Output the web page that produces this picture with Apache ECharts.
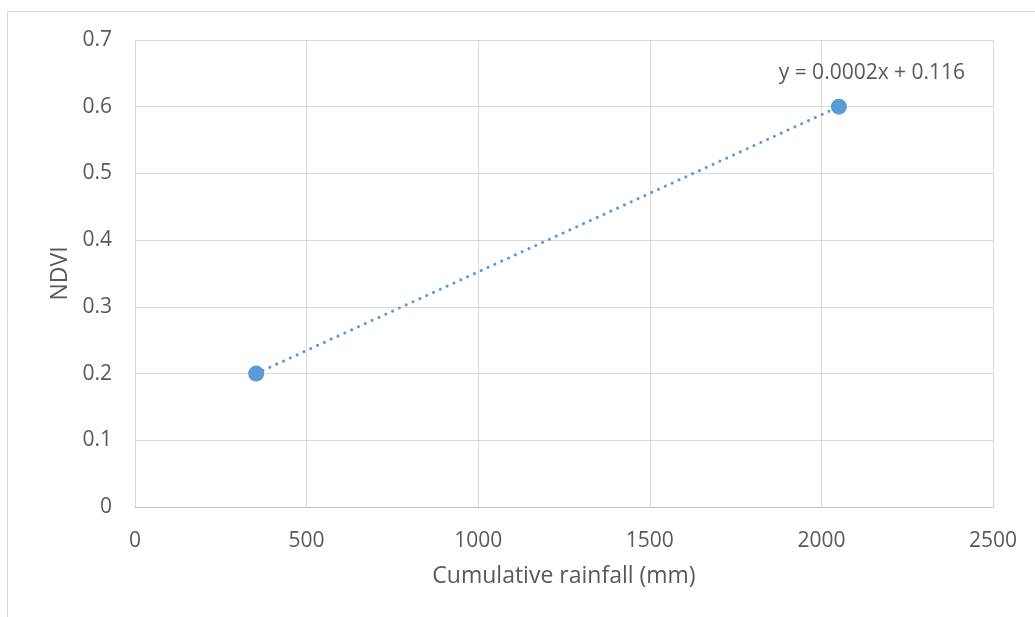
<!DOCTYPE html>
<html>
<head>
<meta charset="utf-8">
<script src="https://cdn.jsdelivr.net/npm/echarts@6/dist/echarts.min.js"></script>
<style>html,body{margin:0;padding:0;background:#fff}#c{width:1035px;height:617px}</style>
</head>
<body>
<div id="c"></div>
<script>
const rainfall = [353, 2051];
const ndvi = [0.2, 0.6];
const trendLabel = 'y = 0.0002x + 0.116';
const xTicks = [0, 500, 1000, 1500, 2000, 2500];
const yTicks = [0, 0.1, 0.2, 0.3, 0.4, 0.5, 0.6, 0.7];

const pts = rainfall.map((x, i) => [x, ndvi[i]]);
const font = '"Open Sans", "Noto Sans", sans-serif';
const chart = echarts.init(document.getElementById('c'));
chart.setOption({
  animation: false,
  backgroundColor: '#fff',
  graphic: [{
    type: 'rect', shape: {x: 7.5, y: 11.5, width: 1100, height: 700},
    style: {fill: 'none', stroke: '#D9D9D9', lineWidth: 1}, silent: true, z: -10
  }],
  grid: {left: 135, right: 42, top: 40, bottom: 110, containLabel: false, outerBoundsMode: 'none'},
  xAxis: {
    type: 'value', min: 0, max: 2500, interval: 500,
    name: 'Cumulative rainfall (mm)', nameLocation: 'middle', nameGap: 58,
    nameTextStyle: {color: '#595959', fontSize: 23, fontFamily: font},
    axisLine: {show: true, lineStyle: {color: '#BFBFBF', width: 1}},
    axisTick: {show: false},
    axisLabel: {color: '#595959', fontSize: 21, fontFamily: font, margin: 24,
      formatter: v => String(v)},
    splitLine: {show: true, lineStyle: {color: '#D9D9D9', width: 1}}
  },
  yAxis: {
    type: 'value', min: 0, max: 0.7, interval: 0.1,
    name: 'NDVI', nameLocation: 'middle', nameGap: 60, nameRotate: 90,
    nameTextStyle: {color: '#595959', fontSize: 23, fontFamily: font},
    axisLine: {show: true, lineStyle: {color: '#D9D9D9', width: 1}},
    axisTick: {show: false},
    axisLabel: {color: '#595959', fontSize: 21, fontFamily: font, margin: 23,
      formatter: v => String(Math.round(v * 10) / 10)},
    splitLine: {show: true, lineStyle: {color: '#D9D9D9', width: 1}}
  },
  series: [{
    type: 'line', data: pts,
    showSymbol: false, symbol: 'none',
    lineStyle: {color: '#5B9BD5', width: 3, type: [0.1, 7.4], cap: 'round'},
    z: 2
  }, {
    type: 'scatter', symbol: 'circle', symbolSize: 16,
    data: pts.map((p, i) => i === pts.length - 1 ? {
      value: p, label: {show: true, formatter: trendLabel, position: 'top',
        offset: [33, -10], color: '#595959', fontSize: 21, fontFamily: font}
    } : p),
    itemStyle: {color: '#5B9BD5', opacity: 1}, z: 3
  }]
});
</script>
</body>
</html>
